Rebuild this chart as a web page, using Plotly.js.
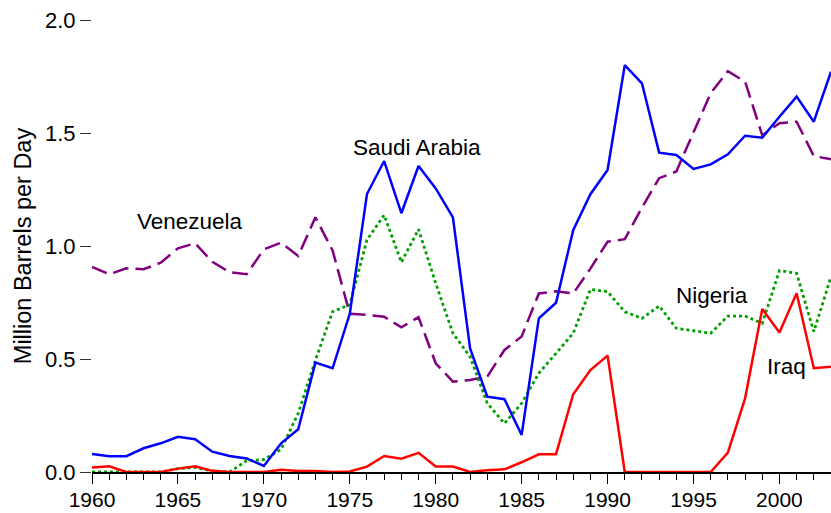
<!DOCTYPE html>
<html>
<head>
<meta charset="utf-8">
<script src="https://cdn.plot.ly/plotly-3.0.1.min.js"></script>
<style>html,body{margin:0;padding:0;background:#fff;}#chart{width:831px;height:513px;}</style>
</head>
<body>
<div id="chart"></div>
<script>
const years = [1960,1961,1962,1963,1964,1965,1966,1967,1968,1969,1970,1971,1972,1973,1974,1975,1976,1977,1978,1979,1980,1981,1982,1983,1984,1985,1986,1987,1988,1989,1990,1991,1992,1993,1994,1995,1996,1997,1998,1999,2000,2001,2002,2003];
const saudiArabia = [0.08,0.07,0.07,0.105,0.127,0.156,0.145,0.09,0.071,0.06,0.027,0.127,0.189,0.484,0.459,0.70,1.23,1.376,1.145,1.354,1.255,1.127,0.547,0.333,0.322,0.164,0.68,0.749,1.07,1.229,1.336,1.80,1.72,1.413,1.403,1.341,1.361,1.406,1.488,1.479,1.572,1.661,1.55,1.771];
const venezuela = [0.908,0.875,0.901,0.897,0.926,0.99,1.012,0.93,0.884,0.875,0.985,1.015,0.956,1.127,0.98,0.70,0.695,0.687,0.64,0.685,0.481,0.40,0.407,0.422,0.54,0.60,0.79,0.80,0.79,0.90,1.019,1.03,1.17,1.30,1.33,1.50,1.676,1.774,1.727,1.49,1.543,1.55,1.398,1.384];
const nigeria = [0.0,0.0,0.0,0.0,0.0,0.015,0.02,0.005,0.0,0.05,0.055,0.10,0.26,0.495,0.71,0.74,1.027,1.137,0.928,1.074,0.835,0.614,0.51,0.304,0.215,0.304,0.437,0.525,0.614,0.808,0.798,0.709,0.68,0.735,0.636,0.625,0.614,0.69,0.69,0.658,0.891,0.879,0.621,0.864];
const iraq = [0.02,0.025,0.0,0.0,0.0,0.015,0.025,0.005,0.0,0.0,0.0,0.01,0.004,0.004,0.0,0.002,0.024,0.071,0.059,0.085,0.024,0.024,0.0,0.008,0.012,0.043,0.078,0.079,0.344,0.451,0.515,0.0,0.0,0.0,0.0,0.0,0.0,0.086,0.326,0.721,0.617,0.791,0.459,0.466];

const labelNames = ['Saudi Arabia','Venezuela','Nigeria','Iraq'];
const labelX = [1978.9,1965.7,1996.05,2000.4];
const labelY = [1.438,1.11,0.783,0.465];

const FONT = 'Liberation Sans, Arial, sans-serif';

const traces = [
  {x: years, y: venezuela, mode:'lines', line:{color:'#800080', width:2.5, dash:'16px,7px'}, name:'Venezuela'},
  {x: years, y: nigeria, mode:'lines', line:{color:'#00a000', width:2.8, dash:'dot'}, name:'Nigeria'},
  {x: years, y: iraq, mode:'lines', line:{color:'#ff0000', width:2.5}, name:'Iraq'},
  {x: years, y: saudiArabia, mode:'lines', line:{color:'#0000ff', width:2.5}, name:'Saudi Arabia'}
];

const annotations = labelNames.map((t,i)=>({x:labelX[i], y:labelY[i], xref:'x', yref:'y', text:t, showarrow:false, font:{size:22.5, color:'#000', family:FONT}}));

const layout = {
  width: 831, height: 513,
  margin: {l:92, r:0, t:20, b:41},
  paper_bgcolor:'#fff', plot_bgcolor:'#fff',
  showlegend:false,
  font:{family:FONT, color:'#000'},
  xaxis: {
    range:[1960,2003], showgrid:false, zeroline:false,
    showline:true, linecolor:'#000', linewidth:2,
    ticks:'outside', ticklen:10, tickwidth:1, tickcolor:'#000',
    tick0:1960, dtick:5, tickfont:{size:21}, ticklabelstandoff:-2,
    minor:{ticks:'outside', ticklen:6, tickwidth:1, tickcolor:'#000', dtick:1, tick0:1960, showgrid:false}
  },
  yaxis: {
    range:[0,2], showgrid:false, zeroline:false, showline:false,
    ticks:'outside', ticklen:11, tickwidth:1, tickcolor:'#333',
    tick0:0, dtick:0.5, tickformat:'.1f', tickfont:{size:22},
    title:{text:'Million Barrels per Day', font:{size:23.5}, standoff:6}
  },
  annotations: annotations
};

Plotly.newPlot('chart', traces, layout, {displayModeBar:false, staticPlot:true});
</script>
</body>
</html>
